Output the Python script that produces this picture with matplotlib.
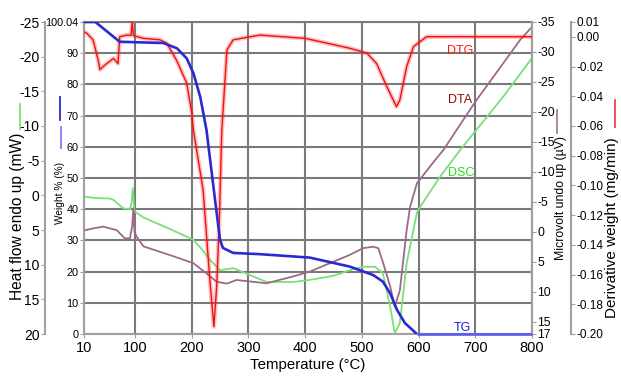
import matplotlib
matplotlib.use("Agg")
import matplotlib.pyplot as plt
from matplotlib.lines import Line2D

plt.rcParams['font.family'] = ['Liberation Sans', 'DejaVu Sans']
plt.rcParams['axes.unicode_minus'] = False

# TG curve (weight %)
tg_temp = [10, 30, 73, 150, 174, 191, 203, 215, 226, 244, 250, 255, 273, 320, 408,
           479, 520, 537, 550, 562, 576, 597]
tg_weight = [100.04, 100.04, 93.7, 93.3, 91.6, 88.4, 83.6, 76.0, 65.4, 38.7, 30.1, 27.6,
             26.0, 25.6, 24.5, 21.6, 18.9, 16.8, 13.0, 7.7, 3.5, 0.0]
tg_tail_temp = [597, 800]
tg_tail_weight = [0.0, 0.0]

# DSC curve (heat flow, mW)
dsc_temp = [12, 30, 55, 62, 79, 91, 94, 96, 99, 115, 160, 203, 220, 232, 250, 273, 297,
            332, 379, 408, 450, 479, 502, 523, 537, 550, 558, 567, 579, 597, 603, 638,
            673, 749, 800]
dsc_heat = [0.2, 0.4, 0.45, 0.67, 1.87, 2.0, 1.0, -1.06, 2.3, 3.2, 4.8, 6.4, 8.0, 9.3,
            10.8, 10.5, 11.3, 12.5, 12.5, 12.2, 11.6, 10.8, 10.3, 10.3, 11.2, 16.1, 19.9,
            18.4, 9.8, 2.5, 1.64, -2.7, -6.5, -14.2, -19.8]

# DTA curve (microvolt)
dta_temp = [12, 26, 44, 68, 76, 82, 91, 95, 97, 99, 103, 115, 160, 203, 226, 244, 262,
            279, 308, 332, 379, 408, 479, 502, 520, 529, 537, 550, 558, 567, 579, 585,
            597, 620, 644, 667, 700, 779, 800]
dta_uv = [-0.3, -0.6, -0.9, -0.3, 0.5, 1.05, 1.05, -1.0, -3.95, 0.0, 0.8, 2.4, 3.8, 5.2,
          6.9, 8.3, 8.6, 8.0, 8.3, 8.55, 7.4, 6.6, 3.8, 2.7, 2.45, 2.7, 5.0, 9.1, 12.45,
          9.7, -0.33, -4.2, -8.1, -10.9, -13.7, -17.0, -21.7, -32.0, -34.2]

# DTG curve (derivative weight, mg/min)
dtg_temp = [12, 15, 26, 35, 38, 50, 62, 70, 73, 85, 93, 95, 97, 100, 115, 144, 156, 173,
            191, 200, 203, 220, 232, 239, 244, 249, 253, 262, 273, 320, 400, 479, 509,
            526, 544, 561, 567, 579, 591, 614, 655, 800]
dtg_deriv = [0.003, 0.0024, -0.002, -0.0156, -0.022, -0.018, -0.0145, -0.018, 0.0001,
             0.0012, 0.001, 0.01, 0.001, 0.0005, -0.001, -0.002, -0.0043, -0.0156, -0.031,
             -0.051, -0.063, -0.103, -0.164, -0.195, -0.168, -0.119, -0.063, -0.0088,
             -0.002, 0.0012, -0.001, -0.0077, -0.011, -0.018, -0.0335, -0.047, -0.0425,
             -0.020, -0.0066, 0.0001, 0.0001, 0.0001]

temp_ticks = [10, 100, 200, 300, 400, 500, 600, 700, 800]
weight_ticks = [0, 10, 20, 30, 40, 50, 60, 70, 80, 90, 100.04]
heat_ticks = [-25, -20, -15, -10, -5, 0, 5, 10, 15, 20]
uv_ticks = [-35, -30, -25, -20, -15, -10, -5, 0, 5, 10, 15, 17]
deriv_ticks = [0.01, 0.0, -0.02, -0.04, -0.06, -0.08, -0.10, -0.12, -0.14, -0.16, -0.18, -0.20]

W, H = 621, 381
spine_col = '#a0a0a0'
grid_col = '#7a7a7a'

fig = plt.figure(figsize=(W / 100, H / 100), dpi=100)
ax = fig.add_axes([84 / W, 1 - 334 / H, 448 / W, 312 / H])

# main axes: weight % with grid
ax.set_xlim(10, 800)
ax.set_ylim(0, 100.04)
ax.set_xticks(temp_ticks)
ax.set_yticks(weight_ticks)
ax.set_yticklabels([('%g' % v) for v in weight_ticks])
ax.grid(True, color=grid_col, lw=1.5)
ax.tick_params(axis='x', labelsize=10.5, colors=spine_col, labelcolor='black', length=3, pad=2)
ax.tick_params(axis='y', labelsize=7.8, colors=spine_col, labelcolor='black', length=3, pad=1)
for s in ax.spines.values():
    s.set_color(spine_col)
    s.set_linewidth(1.5)
ax.spines['top'].set_color(grid_col)

# heat flow axis (far left)
ax_hf = ax.twinx()
ax_hf.spines['left'].set_position(('axes', -39 / 448))
ax_hf.spines['left'].set_visible(True)
ax_hf.spines['left'].set_color(spine_col)
ax_hf.spines['left'].set_linewidth(1.5)
for k in ['right', 'top', 'bottom']:
    ax_hf.spines[k].set_visible(False)
ax_hf.yaxis.set_ticks_position('left')
ax_hf.set_ylim(20, -25)
ax_hf.set_yticks(heat_ticks)
ax_hf.tick_params(axis='y', labelsize=10, colors=spine_col, labelcolor='black', length=3, pad=1)
ax_hf.plot(dsc_temp, dsc_heat, color='#79e079', lw=1.3)

# microvolt axis (right edge of plot)
ax_mv = ax.twinx()
for k in ['left', 'top', 'bottom']:
    ax_mv.spines[k].set_visible(False)
ax_mv.spines['right'].set_color(spine_col)
ax_mv.spines['right'].set_linewidth(1.5)
ax_mv.set_ylim(17, -35)
ax_mv.set_yticks(uv_ticks)
ax_mv.tick_params(axis='y', labelsize=8.8, colors=spine_col, labelcolor='black', length=3, pad=1)
ax_mv.plot(dta_temp, dta_uv, color='#9c6a88', lw=1.3)

# derivative weight axis (far right)
ax_dtg = ax.twinx()
for k in ['left', 'top', 'bottom']:
    ax_dtg.spines[k].set_visible(False)
ax_dtg.spines['right'].set_position(('axes', (571 - 84) / 448))
ax_dtg.spines['right'].set_color(spine_col)
ax_dtg.spines['right'].set_linewidth(1.5)
ax_dtg.set_ylim(-0.20, 0.01)
ax_dtg.set_yticks(deriv_ticks)
ax_dtg.set_yticklabels(['%.2f' % v for v in deriv_ticks])
ax_dtg.tick_params(axis='y', labelsize=8.5, colors=spine_col, labelcolor='black', length=3, pad=1)
ax_dtg.plot(dtg_temp, dtg_deriv, color='#ff3030', lw=3.2, alpha=0.3, solid_joinstyle='round')
ax_dtg.plot(dtg_temp, dtg_deriv, color='#ee1111', lw=1.0)

# TG on top, sharing the weight scale
ax_tg = ax.twinx()
ax_tg.set_ylim(0, 100.04)
ax_tg.axis('off')
ax_tg.plot(tg_temp, tg_weight, color='#2a2ad0', lw=1.9, solid_capstyle='butt')
ax_tg.plot(tg_tail_temp, tg_tail_weight, color='#5a5af0', lw=1.9, solid_capstyle='butt',
           clip_on=False)

ax_tg.text(673, 90.7, 'DTG', color='#ff1a1a', fontsize=9, ha='center', va='center')
ax_tg.text(673, 75.0, 'DTA', color='#8b0a0a', fontsize=9, ha='center', va='center')
ax_tg.text(676, 51.7, 'DSC', color='#22e022', fontsize=9, ha='center', va='center')
ax_tg.text(678, 2.0, 'TG', color='#1a1ae0', fontsize=9, ha='center', va='center')

# axis titles
fig.text(308 / W, 1 - 365 / H, 'Temperature (°C)', fontsize=10.8, ha='center', va='center')
fig.text(18 / W, 1 - 216 / H, 'Heat flow endo up (mW)', fontsize=11.2, rotation=90,
         ha='center', va='center')
fig.text(60 / W, 1 - 193 / H, 'Weight % (%)', fontsize=7.3, rotation=90,
         ha='center', va='center')
fig.text(561 / W, 1 - 198 / H, 'Microvolt undo up (µV)', fontsize=8.8, rotation=90,
         ha='center', va='center')
fig.text(612 / W, 1 - 228 / H, 'Derivative weight (mg/min)', fontsize=11, rotation=90,
         ha='center', va='center')

# small colour keys next to the axis titles
keys = [(20, 104, 129, '#79e079'), (60, 97, 120, '#2a2ad0'), (61, 127, 148, '#8080ee'),
        (557, 110, 133, '#b07a95'), (615, 100, 127, '#ee4444')]
for kx, ky1, ky2, kc in keys:
    fig.add_artist(Line2D([kx / W, kx / W], [1 - ky1 / H, 1 - ky2 / H],
                          transform=fig.transFigure, color=kc, lw=1.3))

fig.savefig('out.png', dpi=100)
